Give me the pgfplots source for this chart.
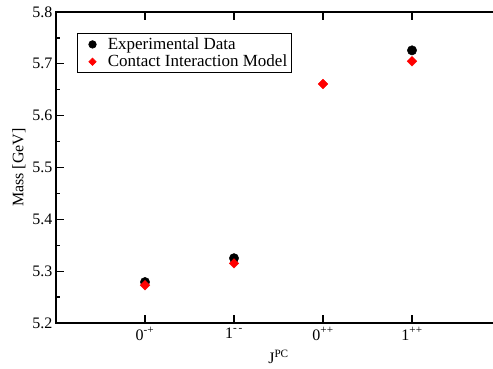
\documentclass[border=0pt]{standalone}
\usepackage{fontspec}
\setmainfont{Liberation Serif}
\usepackage{pgfplots}
\pgfplotsset{compat=1.18}
\begin{document}
\begin{tikzpicture}
\begin{axis}[name=ax,
  scale only axis, width=445pt, height=311pt,
  xmin=0, xmax=5, ymin=5.2, ymax=5.8,
  xtick={1,2,3,4},
  xticklabels={0\textsuperscript{-+},1\textsuperscript{-\,-},0\textsuperscript{++},1\textsuperscript{++}},
  ytick={5.2,5.3,5.4,5.5,5.6,5.7,5.8},
  minor y tick num=1,
  tick align=inside,
  major tick length=8pt, minor tick length=4pt,
  every tick/.style={black, line width=1.2pt},
  axis line style={line width=1.5pt},
  /pgf/number format/assume math mode=true,
  yticklabel style={/pgf/number format/fixed, /pgf/number format/precision=1, /pgf/number format/fixed zerofill, font=\fontsize{16}{18}\selectfont},
  xticklabel style={font=\fontsize{16}{18}\selectfont, yshift=-1pt},
  xlabel={J\textsuperscript{PC}},
  ylabel={Mass [GeV]},
  label style={font=\fontsize{16}{18}\selectfont},
  xlabel style={yshift=-3pt},
  ylabel style={yshift=0pt},
  legend style={at={(axis description cs:0.047,0.931)}, anchor=north west,
    draw=black, line width=0.6pt, font=\fontsize{17}{19}\selectfont,
    row sep=0pt, inner sep=2pt, cells={anchor=west}},
  legend cell align=left,
]
\addplot[only marks, mark=*, mark size=4.7pt, black,
  legend image code/.code={\path (0pt,0pt) (26pt,0pt); \draw[black, fill=black, mark=*, mark size=3.8pt] plot coordinates {(13pt,0pt)};}] coordinates {(1,5.279) (2,5.325) (4,5.726)};
\addlegendentry{Experimental Data}
\addplot[only marks, mark=square*, mark size=3.4pt, red, mark options={rotate=45},
  legend image code/.code={\path (0pt,0pt) (26pt,0pt); \draw[red, fill=red, mark=square*, mark size=2.6pt, mark options={rotate=45}] plot coordinates {(13pt,0pt)};}] coordinates {(1,5.273) (2,5.315) (3,5.661) (4,5.705)};
\addlegendentry{Contact Interaction Model}
\end{axis}
\pgfresetboundingbox
\path ([xshift=-56pt,yshift=-46pt]ax.south west) rectangle ++(493pt,369pt);
\end{tikzpicture}
\end{document}
